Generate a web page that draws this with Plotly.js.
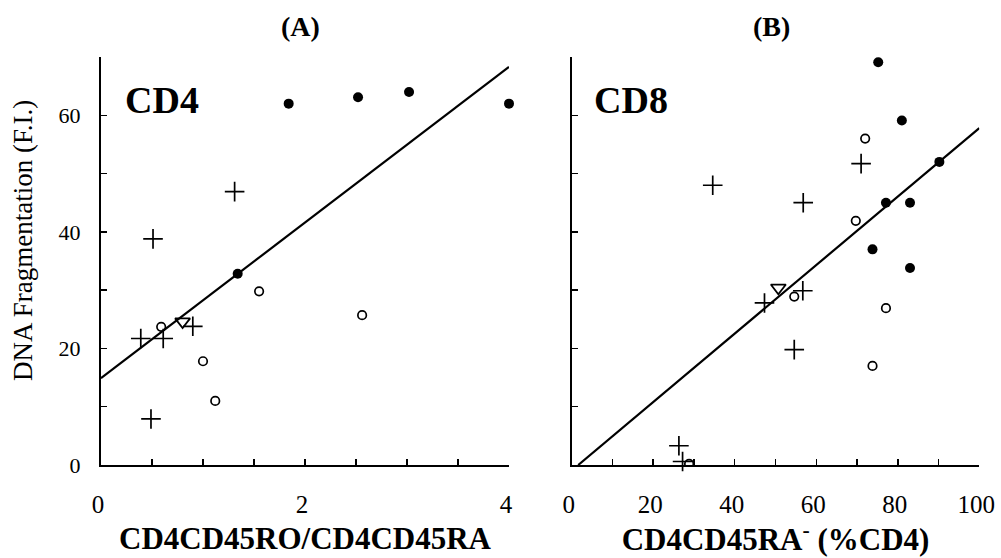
<!DOCTYPE html>
<html>
<head>
<meta charset="utf-8">
<script src="https://cdn.plot.ly/plotly-3.0.1.min.js"></script>
<style>html,body{margin:0;padding:0;background:#fff;}#chart{width:1001px;height:558px;}</style>
</head>
<body>
<div id="chart"></div>
<script>
// Panel A: CD4 (x = CD4CD45RO/CD4CD45RA ratio, y = DNA fragmentation F.I.)
var filledA_x = [1.84, 2.52, 3.02, 4.00, 1.34];
var filledA_y = [62.0, 63.1, 64.0, 62.0, 32.8];
var openA_x = [1.55, 2.56, 0.59, 1.00, 1.12];
var openA_y = [29.8, 25.7, 23.7, 17.8, 11.0];
var plusA_x = [1.31, 0.51, 0.39, 0.61, 0.90, 0.49];
var plusA_y = [46.9, 38.8, 21.7, 21.7, 23.8, 7.9];
var triA_x = [0.80];
var triA_y = [24.6];
var fitA_x = [0, 4];
var fitA_y = [14.9, 68.3];

// Panel B: CD8 (x = CD4CD45RA- %CD4)
var filledB_x = [75.2, 81.0, 90.2, 77.1, 83.0, 73.8, 83.0];
var filledB_y = [69.1, 59.1, 52.0, 45.0, 45.0, 37.0, 33.8];
var openB_x = [72.0, 69.7, 54.6, 77.1, 73.8, 28.8];
var openB_y = [56.0, 41.9, 28.9, 26.9, 17.0, 0.2];
var plusB_x = [34.6, 71.0, 56.8, 56.7, 47.3, 54.6, 26.3, 27.2];
var plusB_y = [48.0, 51.7, 45.0, 29.9, 27.8, 19.8, 3.3, 0.6];
var triB_x = [50.7];
var triB_y = [30.4];
var fitB_x = [1.6, 100];
var fitB_y = [0, 57.8];

var xTicksA = [0, 2, 4];
var xTicksB = [0, 20, 40, 60, 80, 100];
var yTicks = [0, 20, 40, 60];

var FONT = '"Liberation Serif", "Times New Roman", Times, serif';

function fit(x, y, xa, ya) {
  return {x: x, y: y, xaxis: xa, yaxis: ya, mode: 'lines', type: 'scatter',
    line: {color: '#000', width: 2.2}, hoverinfo: 'skip', showlegend: false, cliponaxis: false};
}
function filled(x, y, xa, ya) {
  return {x: x, y: y, xaxis: xa, yaxis: ya, mode: 'markers', type: 'scatter',
    marker: {symbol: 'circle', size: 10, color: '#000'}, showlegend: false, cliponaxis: false};
}
function openC(x, y, xa, ya) {
  return {x: x, y: y, xaxis: xa, yaxis: ya, mode: 'markers', type: 'scatter',
    marker: {symbol: 'circle-open', size: 8.5, color: '#000', line: {width: 1.7, color: '#000'}},
    showlegend: false, cliponaxis: true};
}
function plus(x, y, xa, ya) {
  return {x: x, y: y, xaxis: xa, yaxis: ya, mode: 'markers', type: 'scatter',
    marker: {symbol: 'cross-thin-open', size: 14, color: '#000', line: {width: 1.7, color: '#000'}},
    showlegend: false, cliponaxis: false};
}
function tri(x, y, xa, ya) {
  return {x: x, y: y, xaxis: xa, yaxis: ya, mode: 'markers', type: 'scatter',
    marker: {symbol: 'triangle-down-open', size: 13, color: '#000', line: {width: 1.8, color: '#000'}},
    showlegend: false, cliponaxis: false};
}

var data = [
  fit(fitA_x, fitA_y, 'x', 'y'),
  openC(openA_x, openA_y, 'x', 'y'),
  plus(plusA_x, plusA_y, 'x', 'y'),
  tri(triA_x, triA_y, 'x', 'y'),
  filled(filledA_x, filledA_y, 'x', 'y'),
  fit(fitB_x, fitB_y, 'x2', 'y2'),
  openC(openB_x, openB_y, 'x2', 'y2'),
  plus(plusB_x, plusB_y, 'x2', 'y2'),
  tri(triB_x, triB_y, 'x2', 'y2'),
  filled(filledB_x, filledB_y, 'x2', 'y2')
];

var axBase = {showline: true, linecolor: '#000', linewidth: 2, showgrid: false, zeroline: false,
  ticks: 'inside', ticklen: 6, tickwidth: 1.5, tickcolor: '#000', fixedrange: true};
var minorBase = {ticks: 'inside', ticklen: 6, tickwidth: 1.5, tickcolor: '#000', showgrid: false};

var yDomain = [(558 - 465) / 558, (558 - 57) / 558];

var layout = {
  width: 1001, height: 558,
  margin: {l: 0, r: 0, t: 0, b: 0},
  paper_bgcolor: '#fff', plot_bgcolor: 'rgba(0,0,0,0)',
  font: {family: FONT, color: '#000'},
  showlegend: false,
  xaxis: Object.assign({}, axBase, {
    domain: [101 / 1001, 509 / 1001], range: [0, 4], tickvals: xTicksA,
    minor: Object.assign({dtick: 0.5}, minorBase),
    tickfont: {family: FONT, size: 25}, ticklabelstandoff: 16, ticklabelshift: -3,
    title: {text: '<b>CD4CD45RO/CD4CD45RA</b>', font: {family: FONT, size: 31}, standoff: 10},
    anchor: 'y', automargin: false
  }),
  yaxis: Object.assign({}, axBase, {
    domain: yDomain, range: [0, 70], tickvals: yTicks,
    minor: Object.assign({dtick: 10}, minorBase),
    tickfont: {family: FONT, size: 22}, ticklabelstandoff: 14,
    anchor: 'x', automargin: false
  }),
  xaxis2: Object.assign({}, axBase, {
    domain: [571.7 / 1001, 979.3 / 1001], range: [0, 100], tickvals: xTicksB,
    minor: Object.assign({dtick: 10}, minorBase),
    tickfont: {family: FONT, size: 25}, ticklabelstandoff: 16, ticklabelshift: -3,
    title: {text: '<b>CD4CD45RA<sup>-</sup> (%CD4)</b>', font: {family: FONT, size: 31}, standoff: 10},
    anchor: 'y2', automargin: false
  }),
  yaxis2: Object.assign({}, axBase, {
    domain: yDomain, range: [0, 70], tickvals: yTicks, showticklabels: false,
    minor: Object.assign({dtick: 10}, minorBase),
    anchor: 'x2', automargin: false
  }),
  annotations: [
    {text: 'DNA Fragmentation (F.I.)', xref: 'paper', yref: 'paper', x: 23 / 1001, y: (558 - 241) / 558,
     xanchor: 'center', yanchor: 'middle', textangle: -90, showarrow: false, font: {family: FONT, size: 27}},
    {text: '<b>(A)</b>', xref: 'paper', yref: 'paper', x: 300 / 1001, y: (558 - 27) / 558,
     xanchor: 'center', yanchor: 'middle', showarrow: false, font: {family: FONT, size: 28}},
    {text: '<b>(B)</b>', xref: 'paper', yref: 'paper', x: 771 / 1001, y: (558 - 27) / 558,
     xanchor: 'center', yanchor: 'middle', showarrow: false, font: {family: FONT, size: 28}},
    {text: '<b>CD4</b>', xref: 'paper', yref: 'paper', x: 123 / 1001, y: (558 - 100) / 558,
     xanchor: 'left', yanchor: 'middle', showarrow: false, font: {family: FONT, size: 38}},
    {text: '<b>CD8</b>', xref: 'paper', yref: 'paper', x: 592 / 1001, y: (558 - 100) / 558,
     xanchor: 'left', yanchor: 'middle', showarrow: false, font: {family: FONT, size: 38}}
  ]
};

Plotly.newPlot('chart', data, layout, {displayModeBar: false, staticPlot: true});
</script>
</body>
</html>
